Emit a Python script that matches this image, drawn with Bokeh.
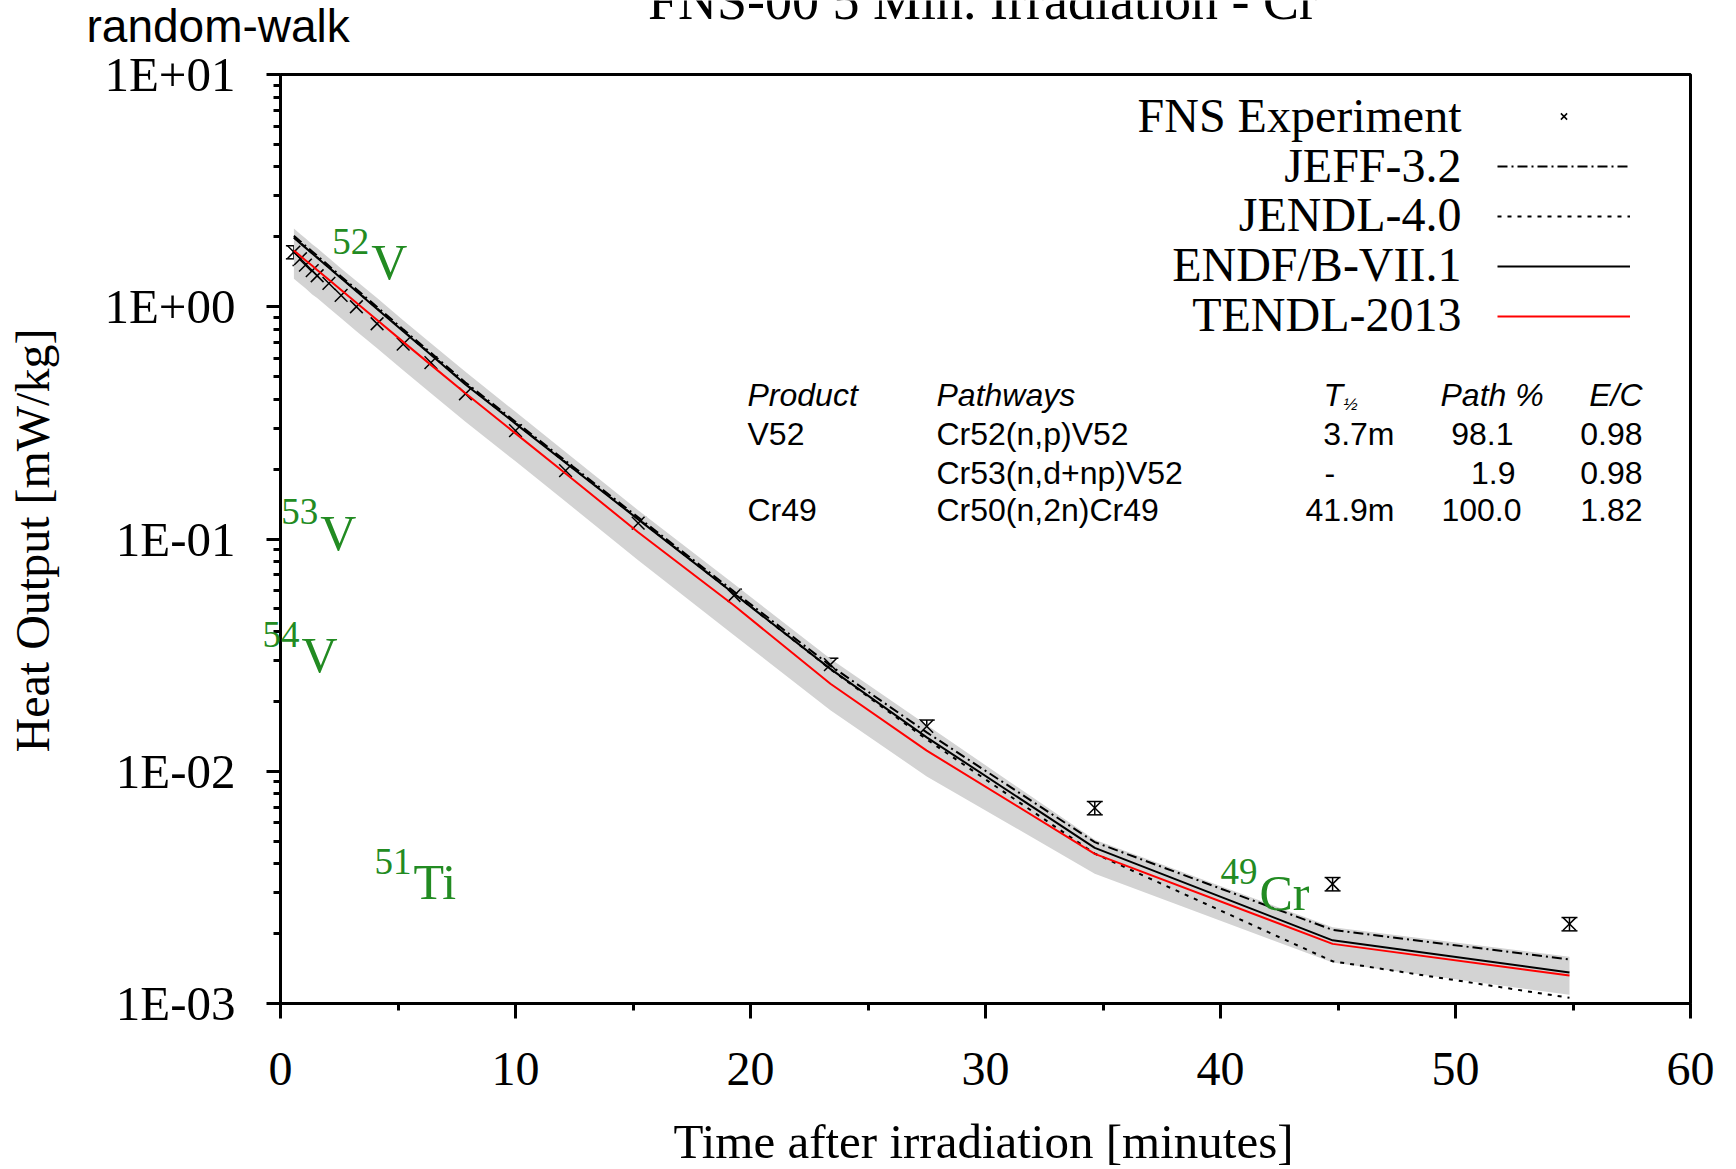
import math
from bokeh.plotting import figure
from bokeh.models import (ColumnDataSource, Whisker, TeeHead, Legend, LegendItem, Label,
                          FixedTicker, CustomJSTickFormatter, Range1d, BoxAnnotation)
from bokeh.embed import file_html
from bokeh.resources import INLINE

# ---------------- data ----------------
t_min = [0.57, 0.85, 1.06, 1.35, 1.56, 2.06, 2.58, 3.23, 4.11, 5.22, 6.40, 7.87,
         10.0, 12.13, 15.22, 19.3, 23.4, 27.5, 34.65, 44.77, 54.85]
fns_exp = [1.72, 1.61, 1.51, 1.43, 1.36, 1.26, 1.12, 1.00, 0.845, 0.69, 0.575, 0.422,
           0.293, 0.197, 0.117, 0.0571, 0.0288, 0.0156, 0.00695, 0.00327, 0.0022]
fns_err_pct = [6.5, 6.5, 6.5, 6.5, 6.5, 6.5, 6.5, 6.5, 6.5, 6.5, 6.5, 6.5,
               6.5, 6.5, 6.5, 6.5, 6.5, 6.5, 6.6, 6.6, 6.6]
jeff_32 = [2.02, 1.91, 1.83, 1.73, 1.66, 1.50, 1.35, 1.19, 0.998, 0.799, 0.633, 0.472,
           0.320, 0.217, 0.1240, 0.0594, 0.0285, 0.0147, 0.00495, 0.002075, 0.001547]
jendl_40 = [1.99, 1.88, 1.805, 1.70, 1.632, 1.477, 1.332, 1.171, 0.983, 0.788, 0.624, 0.465,
            0.3155, 0.214, 0.122, 0.0583, 0.0275, 0.0137, 0.00442, 0.00152, 0.001058]
endf_71 = [1.98, 1.873, 1.797, 1.696, 1.626, 1.472, 1.327, 1.167, 0.979, 0.785, 0.621, 0.463,
           0.314, 0.213, 0.1215, 0.0581, 0.0276, 0.0140, 0.00468, 0.00187, 0.00136]
tendl_13 = [1.746, 1.653, 1.587, 1.500, 1.440, 1.307, 1.181, 1.040, 0.877, 0.706, 0.562, 0.424,
            0.285, 0.1915, 0.107, 0.0517, 0.0238, 0.01227, 0.00441, 0.001806, 0.00132]
band_hi = [2.17, 2.05, 1.97, 1.86, 1.79, 1.62, 1.46, 1.29, 1.09, 0.875, 0.696, 0.525,
           0.353, 0.237, 0.133, 0.064, 0.0305, 0.0158, 0.00507, 0.00213, 0.00159]
band_lo = [1.32, 1.25, 1.20, 1.13, 1.09, 0.987, 0.892, 0.785, 0.662, 0.533, 0.424, 0.320,
           0.216, 0.145, 0.081, 0.0385, 0.0183, 0.0095, 0.00362, 0.0015, 0.00109]

series_names = ["FNS Experiment", "JEFF-3.2", "JENDL-4.0", "ENDF/B-VII.1", "TENDL-2013"]

x_major = [0, 10, 20, 30, 40, 50, 60]
x_minor = [5, 15, 25, 35, 45, 55]
y_major = [0.001, 0.01, 0.1, 1.0, 10.0]

iso_mass = ["52", "53", "54", "51", "49"]
iso_symbol = ["V", "V", "V", "Ti", "Cr"]
iso_t = [2.2, 0.03, -0.77, 4.0, 40.0]
iso_heat = [1.30, 0.089, 0.0264, 0.00278, 0.00251]

tbl_header = ["Product", "Pathways", "T", "Path %", "E/C"]
tbl_product = ["V52", "", "Cr49"]
tbl_pathway = ["Cr52(n,p)V52", "Cr53(n,d+np)V52", "Cr50(n,2n)Cr49"]
tbl_halflife = ["3.7m", "-", "41.9m"]
tbl_path_pct = ["98.1", "1.9", "100.0"]
tbl_ec = ["0.98", "0.98", "1.82"]

title_text = "FNS-00 5 Min. Irradiation - Cr"
corner_text = "random-walk"
x_title = "Time after irradiation [minutes]"
y_title = "Heat Output [mW/kg]"

# ---------------- layout: the plotting frame covers the whole page; axes are pinned ----------------
W, H = 1736, 1169
BOX_L, BOX_R, BOX_T, BOX_B = 280, 1690, 74, 1003       # page pixels of the plot box
X0, X1 = x_major[0], x_major[-1]
D0, D1 = int(round(math.log10(y_major[0]))), int(round(math.log10(y_major[-1])))
px_min = (BOX_R - BOX_L) / (X1 - X0)
px_dec = (BOX_B - BOX_T) / (D1 - D0)
x_range = Range1d(X0 - BOX_L / px_min, X1 + (W - BOX_R) / px_min)
y_range = Range1d(10 ** (D0 - (H - BOX_B) / px_dec), 10 ** (D1 + BOX_T / px_dec))

SERIF = "Liberation Serif"
SANS = "Liberation Sans"
GREEN = "#228B22"

p = figure(width=W, height=H, y_axis_type="log", x_range=x_range, y_range=y_range,
           output_backend="svg", toolbar_location=None, min_border=0)
p.xgrid.visible = False
p.ygrid.visible = False
p.outline_line_color = None
p.background_fill_color = "white"
p.border_fill_color = "white"

for ax in (p.xaxis[0], p.yaxis[0]):
    ax.axis_line_width = 3
    ax.major_tick_line_width = 3
    ax.minor_tick_line_width = 3
    ax.major_tick_in = 0
    ax.minor_tick_in = 0
    ax.major_label_text_font = SERIF
    ax.major_label_text_color = "black"

xax = p.xaxis[0]
xax.fixed_location = y_major[0]
xax.bounds = (X0, X1)
xax.ticker = FixedTicker(ticks=x_major, minor_ticks=x_minor)
xax.major_label_text_font_size = "48px"
xax.major_tick_out = 15
xax.minor_tick_out = 7
xax.major_label_standoff = 34

y_minor = [m * d for d in y_major[:-1] for m in range(2, 10)]
yax = p.yaxis[0]
yax.fixed_location = X0
yax.bounds = (y_major[0], y_major[-1])
yax.ticker = FixedTicker(ticks=y_major, minor_ticks=y_minor)
yax.formatter = CustomJSTickFormatter(code="""
const e = Math.round(Math.log10(tick));
const s = e < 0 ? "-" : "+";
const a = Math.abs(e);
return "1E" + s + (a < 10 ? "0" : "") + a;
""")
yax.major_label_text_font_size = "49px"
yax.major_tick_out = 14
yax.minor_tick_out = 7
yax.major_label_standoff = 31

# plot box border (top and right edges; left/bottom coincide with the axes)
p.add_layout(BoxAnnotation(left=X0, right=X1, bottom=y_major[0], top=y_major[-1],
                           fill_color=None, fill_alpha=0, line_color="black",
                           line_alpha=1.0, line_width=3))

# ---------------- glyphs ----------------
src = ColumnDataSource(dict(
    t=t_min, exp=fns_exp,
    lo=[v * (1 - e / 100.0) for v, e in zip(fns_exp, fns_err_pct)],
    hi=[v * (1 + e / 100.0) for v, e in zip(fns_exp, fns_err_pct)],
    jeff=jeff_32, jendl=jendl_40, endf=endf_71, tendl=tendl_13,
    blo=band_lo, bhi=band_hi))

p.varea(x="t", y1="blo", y2="bhi", source=src, fill_color="#D3D3D3")

err = Whisker(source=src, base="t", upper="hi", lower="lo", dimension="height",
              line_color="black", line_width=1.5,
              upper_head=TeeHead(size=16, line_color="black", line_width=1.5),
              lower_head=TeeHead(size=16, line_color="black", line_width=1.5))
p.add_layout(err)
r_exp = p.scatter(x="t", y="exp", source=src, marker="x", size=18,
                  line_color="black", line_width=1.5)

r_jeff = p.line(x="t", y="jeff", source=src, line_color="black", line_width=2, line_dash="10 4 2 4")
r_jendl = p.line(x="t", y="jendl", source=src, line_color="black", line_width=2, line_dash="4 6")
r_endf = p.line(x="t", y="endf", source=src, line_color="black", line_width=2)
r_tendl = p.line(x="t", y="tendl", source=src, line_color="#FF0000", line_width=2)

# screen-unit helper: page pixel (x from left, y from top) -> frame coordinates
def sy(y_page):
    return H - y_page

def slabel(x, y_page, text, font, size, align="left", style="normal", color="black", angle=0.0):
    p.add_layout(Label(x=x, y=sy(y_page), x_units="screen", y_units="screen", text=text,
                       text_align=align, text_baseline="middle", text_font=font,
                       text_font_size=size, text_font_style=style, text_color=color,
                       angle=angle))

# ---------------- legend (samples from Bokeh, names as right-aligned text) ----------------
renderers = [r_exp, r_jeff, r_jendl, r_endf, r_tendl]
legend = Legend(items=[LegendItem(label="", renderers=[r]) for r in renderers],
                location=(1497, sy(327)), orientation="vertical",
                glyph_width=133, glyph_height=22, label_height=22, label_width=1,
                label_standoff=0, spacing=28, padding=0, margin=0,
                border_line_color=None, background_fill_alpha=0,
                label_text_font_size="1px")
p.add_layout(legend)

leg_page_y = [115, 165, 214, 264, 314]
for name, yy in zip(series_names, leg_page_y):
    slabel(1461, yy, name, SERIF, "48px", align="right")

# ---------------- axis titles, plot title, corner text ----------------
slabel(983, 1141, x_title, SERIF, "49px", align="center")
slabel(32, 540, y_title, SERIF, "48px", align="center", angle=math.pi / 2)
slabel(982, 0, title_text, SERIF, "54px", align="center")
slabel(86, 25, corner_text, SANS, "46px", align="left")

# ---------------- isotope labels ----------------
for m, s, tx, hy in zip(iso_mass, iso_symbol, iso_t, iso_heat):
    p.add_layout(Label(x=tx, y=hy, text=m, y_offset=39, text_align="left",
                       text_baseline="middle", text_font=SERIF,
                       text_font_size="37px", text_color=GREEN))
    p.add_layout(Label(x=tx, y=hy, text=s, x_offset=39, y_offset=18, text_align="left",
                       text_baseline="middle", text_font=SERIF,
                       text_font_size="50px", text_color=GREEN))

# ---------------- table ----------------
row_page_y = [433, 472, 509]
head_page_y = 394
pct_right = [1513, 1515, 1521]

slabel(747, head_page_y, tbl_header[0], SANS, "32px", style="italic")
slabel(936, head_page_y, tbl_header[1], SANS, "32px", style="italic")
slabel(1323, head_page_y, tbl_header[2], SANS, "32px", style="italic")
slabel(1343, head_page_y + 10, "\u00bd", SANS, "17px", style="italic")
slabel(1440, head_page_y, tbl_header[3], SANS, "32px", style="italic")
slabel(1642, head_page_y, tbl_header[4], SANS, "32px", align="right", style="italic")

for i, yy in enumerate(row_page_y):
    if tbl_product[i]:
        slabel(747, yy, tbl_product[i], SANS, "32px")
    slabel(936, yy, tbl_pathway[i], SANS, "32px")
    if tbl_halflife[i] == "-":
        slabel(1324, yy, tbl_halflife[i], SANS, "32px")
    else:
        slabel(1394, yy, tbl_halflife[i], SANS, "32px", align="right")
    slabel(pct_right[i], yy, tbl_path_pct[i], SANS, "32px", align="right")
    slabel(1642, yy, tbl_ec[i], SANS, "32px", align="right")

open("out.html", "w").write(file_html(p, INLINE))
